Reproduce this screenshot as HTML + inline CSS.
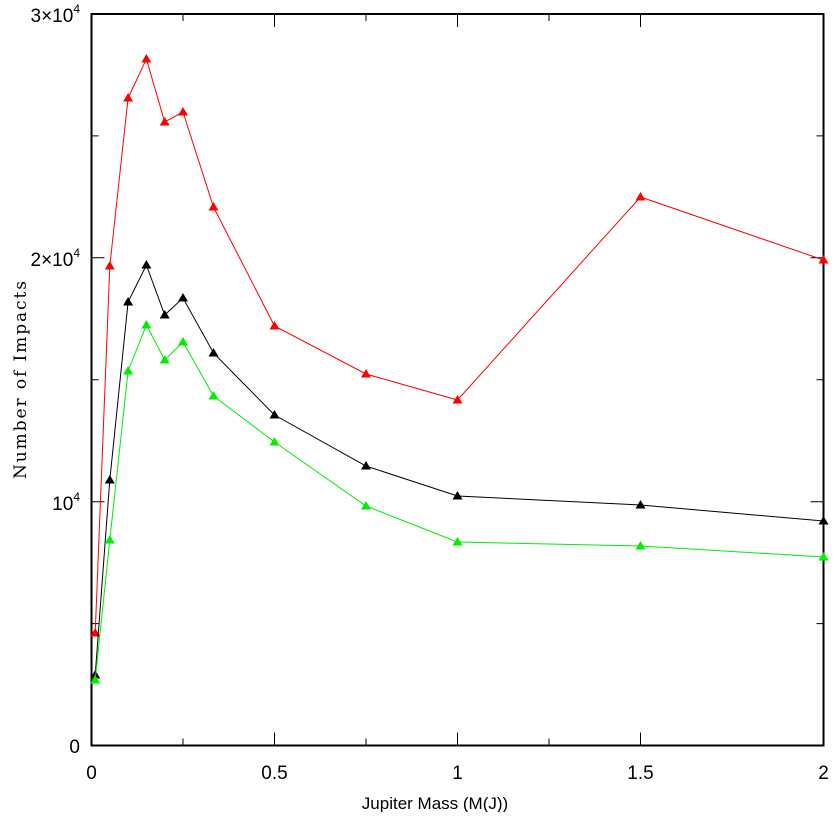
<!DOCTYPE html>
<html><head><meta charset="utf-8"><style>html,body{margin:0;padding:0;background:#fff}</style></head>
<body>
<svg width="835" height="812" viewBox="0 0 835 812" xmlns="http://www.w3.org/2000/svg">
<defs>
<marker id="tr" viewBox="-6 -6 12 12" markerWidth="12" markerHeight="12" markerUnits="userSpaceOnUse"><polygon points="0,-5 5,3.5 -5,3.5" fill="#f00"/></marker>
<marker id="tk" viewBox="-6 -6 12 12" markerWidth="12" markerHeight="12" markerUnits="userSpaceOnUse"><polygon points="0,-5 5,3.5 -5,3.5" fill="#000"/></marker>
<marker id="tg" viewBox="-6 -6 12 12" markerWidth="12" markerHeight="12" markerUnits="userSpaceOnUse"><polygon points="0,-5 5,3.5 -5,3.5" fill="#0e0"/></marker>
</defs>
<g stroke="#000" stroke-width="2" fill="none">
<rect x="91.5" y="14" width="732" height="731.5"/>
</g>
<g stroke="#000" stroke-width="1">
<path d="M274.5 745.5v-13M457.5 745.5v-13M640.5 745.5v-13M183 745.5v-7M366 745.5v-7M549 745.5v-7"/>
<path d="M274.5 14v13M457.5 14v13M640.5 14v13M183 14v7M366 14v7M549 14v7"/>
<path d="M91.5 501.7h13M91.5 257.8h13M91.5 623.6h7M91.5 379.7h7M91.5 135.9h7"/>
<path d="M823.5 501.7h-13M823.5 257.8h-13M823.5 623.6h-7M823.5 379.7h-7M823.5 135.9h-7"/>
</g>
<polyline fill="none" stroke="#f00" stroke-width="1" marker-start="url(#tr)" marker-mid="url(#tr)" marker-end="url(#tr)"
points="95.2,633 109.8,266 128.1,98 146.4,59 164.7,122 183,112 213.5,207 274.5,326 366,374 457.5,400 640.5,197 823.5,260"/>
<polyline fill="none" stroke="#000" stroke-width="1" marker-start="url(#tk)" marker-mid="url(#tk)" marker-end="url(#tk)"
points="95.2,675 109.8,480 128.1,302 146.4,265 164.7,315 183,298 213.5,353 274.5,415 366,466 457.5,496 640.5,505 823.5,521"/>
<polyline fill="none" stroke="#0e0" stroke-width="1" marker-start="url(#tg)" marker-mid="url(#tg)" marker-end="url(#tg)"
points="95.2,680 109.8,540 128.1,371 146.4,325 164.7,360 183,342 213.5,396 274.5,442 366,506 457.5,542 640.5,546 823.5,557"/>
<g font-family="Liberation Sans, sans-serif" font-size="19" fill="#000">
<text x="91.5" y="779" text-anchor="middle">0</text>
<text x="274.5" y="779" text-anchor="middle">0.5</text>
<text x="457.5" y="779" text-anchor="middle">1</text>
<text x="640.5" y="779" text-anchor="middle">1.5</text>
<text x="823.5" y="779" text-anchor="middle">2</text>
<text x="80" y="753" text-anchor="end">0</text>
<text x="80" y="510" text-anchor="end">10<tspan font-size="12" dy="-9">4</tspan></text>
<text x="80" y="266" text-anchor="end">2×10<tspan font-size="12" dy="-9">4</tspan></text>
<text x="80" y="22" text-anchor="end">3×10<tspan font-size="12" dy="-9">4</tspan></text>
<text x="435" y="809" text-anchor="middle" font-size="17">Jupiter Mass (M(J))</text>
</g>
<text transform="translate(26,380) rotate(-90)" text-anchor="middle" font-family="DejaVu Serif, serif" font-size="17" textLength="198" lengthAdjust="spacing">Number of Impacts</text>
</svg>
</body></html>
